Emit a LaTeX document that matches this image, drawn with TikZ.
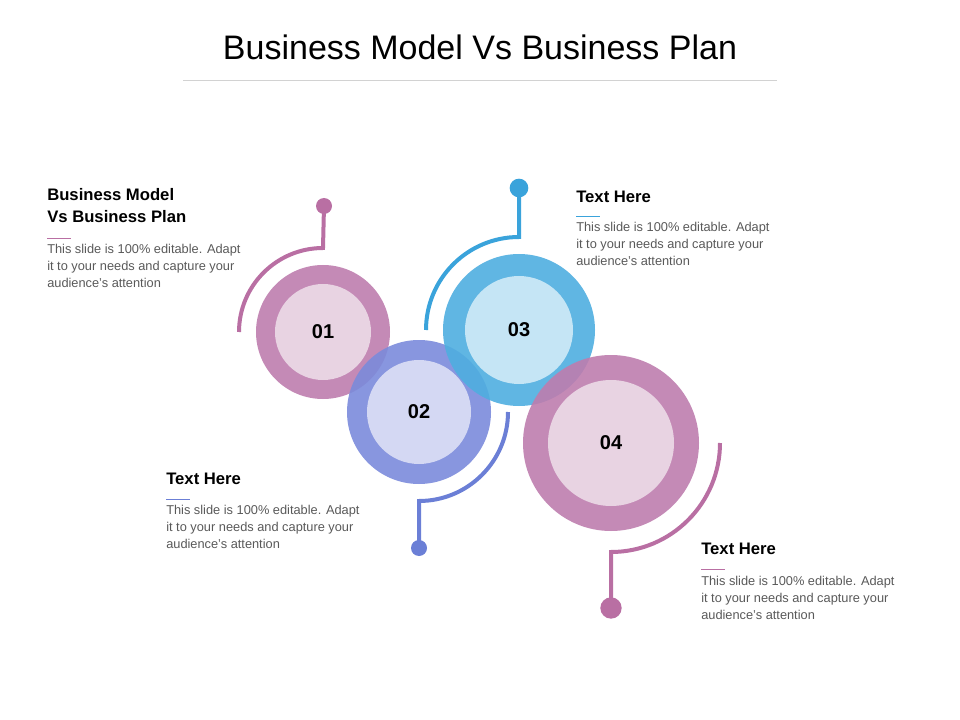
\documentclass[tikz,border=0pt]{standalone}
\usepackage{fontspec}
\setmainfont{Liberation Sans}
\begin{document}
\begin{tikzpicture}[x=0.75pt,y=-0.75pt,
  head/.style={anchor=north west,inner sep=0pt,align=left,font=\bfseries\fontsize{12.5}{16.5}\selectfont,text=black},
  body/.style={anchor=north west,inner sep=0pt,align=left,font=\fontsize{9.6}{12.8}\selectfont,text=bodygray},
  num/.style={font=\bfseries\fontsize{15}{15}\selectfont},
  ring/.style={circle,inner sep=0pt,fill opacity=0.9},
  disc/.style={circle,inner sep=0pt},
  dot/.style={circle,inner sep=0pt},
  conn/.style={line width=3pt}]
\definecolor{pur}{HTML}{BE7DAE}\definecolor{purl}{HTML}{E8D3E2}
\definecolor{vio}{HTML}{7B8BDB}\definecolor{viol}{HTML}{D4D8F3}
\definecolor{blu}{HTML}{4FAEE0}\definecolor{blul}{HTML}{C5E5F5}
\definecolor{purline}{HTML}{B96FA3}\definecolor{violine}{HTML}{6B7FD6}\definecolor{bluline}{HTML}{3AA3DB}
\definecolor{bodygray}{HTML}{595959}
\useasboundingbox (0,0) rectangle (960,720);
\node[font=\fontsize{25.5}{28}\selectfont] (title) at (480,47) {Business Model Vs Business Plan};
\coordinate (tl) at (183,80); \coordinate (tr) at (777,80);
\draw[gray!35,line width=0.6pt] (tl) -- (tr);
% connectors
\node[dot,fill=purline,minimum size=12pt] (d1) at (324,206) {};
\node[dot,fill=bluline,minimum size=14pt] (d3) at (519,188) {};
\node[dot,fill=violine,minimum size=12pt] (d2) at (419,548) {};
\node[dot,fill=purline,minimum size=16pt] (d4) at (611,608) {};
\coordinate (a1) at (239,332); \coordinate (a3) at (426,330);
\coordinate (a2) at (508,412); \coordinate (a4) at (720,443);
\draw[conn,purline] (a1) arc (180:270:84) -- (d1.center);
\draw[conn,bluline] (a3) arc (180:270:93) -- (d3.center);
\draw[conn,violine] (a2) arc (0:90:89) -- (d2.center);
\draw[conn,purline] (a4) arc (0:90:109) -- (d4.center);
% circles
\node[ring,fill=pur,minimum size=100.5pt] (c1) at (323,332) {};
\node[disc,fill=purl,minimum size=72pt] (i1) at (323,332) {};
\node[ring,fill=vio,minimum size=108pt] (c2) at (419,412) {};
\node[disc,fill=viol,minimum size=78pt] (i2) at (419,412) {};
\node[ring,fill=blu,minimum size=114pt] (c3) at (519,330) {};
\node[disc,fill=blul,minimum size=81pt] (i3) at (519,330) {};
\node[ring,fill=pur,minimum size=132pt] (c4) at (611,443) {};
\node[disc,fill=purl,minimum size=94.5pt] (i4) at (611,443) {};
\node[num] (n1) at (323,332) {01};
\node[num] (n2) at (419,412) {02};
\node[num] (n3) at (519,330) {03};
\node[num] (n4) at (611,443) {04};
% text blocks
\node[head] (h1) at (47,188) {Business Model\\Vs Business Plan};
\coordinate (u1a) at (47,238); \coordinate (u1b) at (71,238);
\draw[purline,line width=0.6pt] (u1a) -- (u1b);
\node[body] (b1) at (47,244) {This slide is 100\% editable. Adapt\\it to your needs and capture your\\audience's attention};
\node[head] (h2) at (166,473) {Text Here};
\coordinate (u2a) at (166,499); \coordinate (u2b) at (190,499);
\draw[violine,line width=0.6pt] (u2a) -- (u2b);
\node[body] (b2) at (166,505) {This slide is 100\% editable. Adapt\\it to your needs and capture your\\audience's attention};
\node[head] (h3) at (576,191) {Text Here};
\coordinate (u3a) at (576,216); \coordinate (u3b) at (600,216);
\draw[bluline,line width=0.6pt] (u3a) -- (u3b);
\node[body] (b3) at (576,222) {This slide is 100\% editable. Adapt\\it to your needs and capture your\\audience's attention};
\node[head] (h4) at (701,543) {Text Here};
\coordinate (u4a) at (701,569); \coordinate (u4b) at (725,569);
\draw[purline,line width=0.6pt] (u4a) -- (u4b);
\node[body] (b4) at (701,576) {This slide is 100\% editable. Adapt\\it to your needs and capture your\\audience's attention};
\end{tikzpicture}
\end{document}
